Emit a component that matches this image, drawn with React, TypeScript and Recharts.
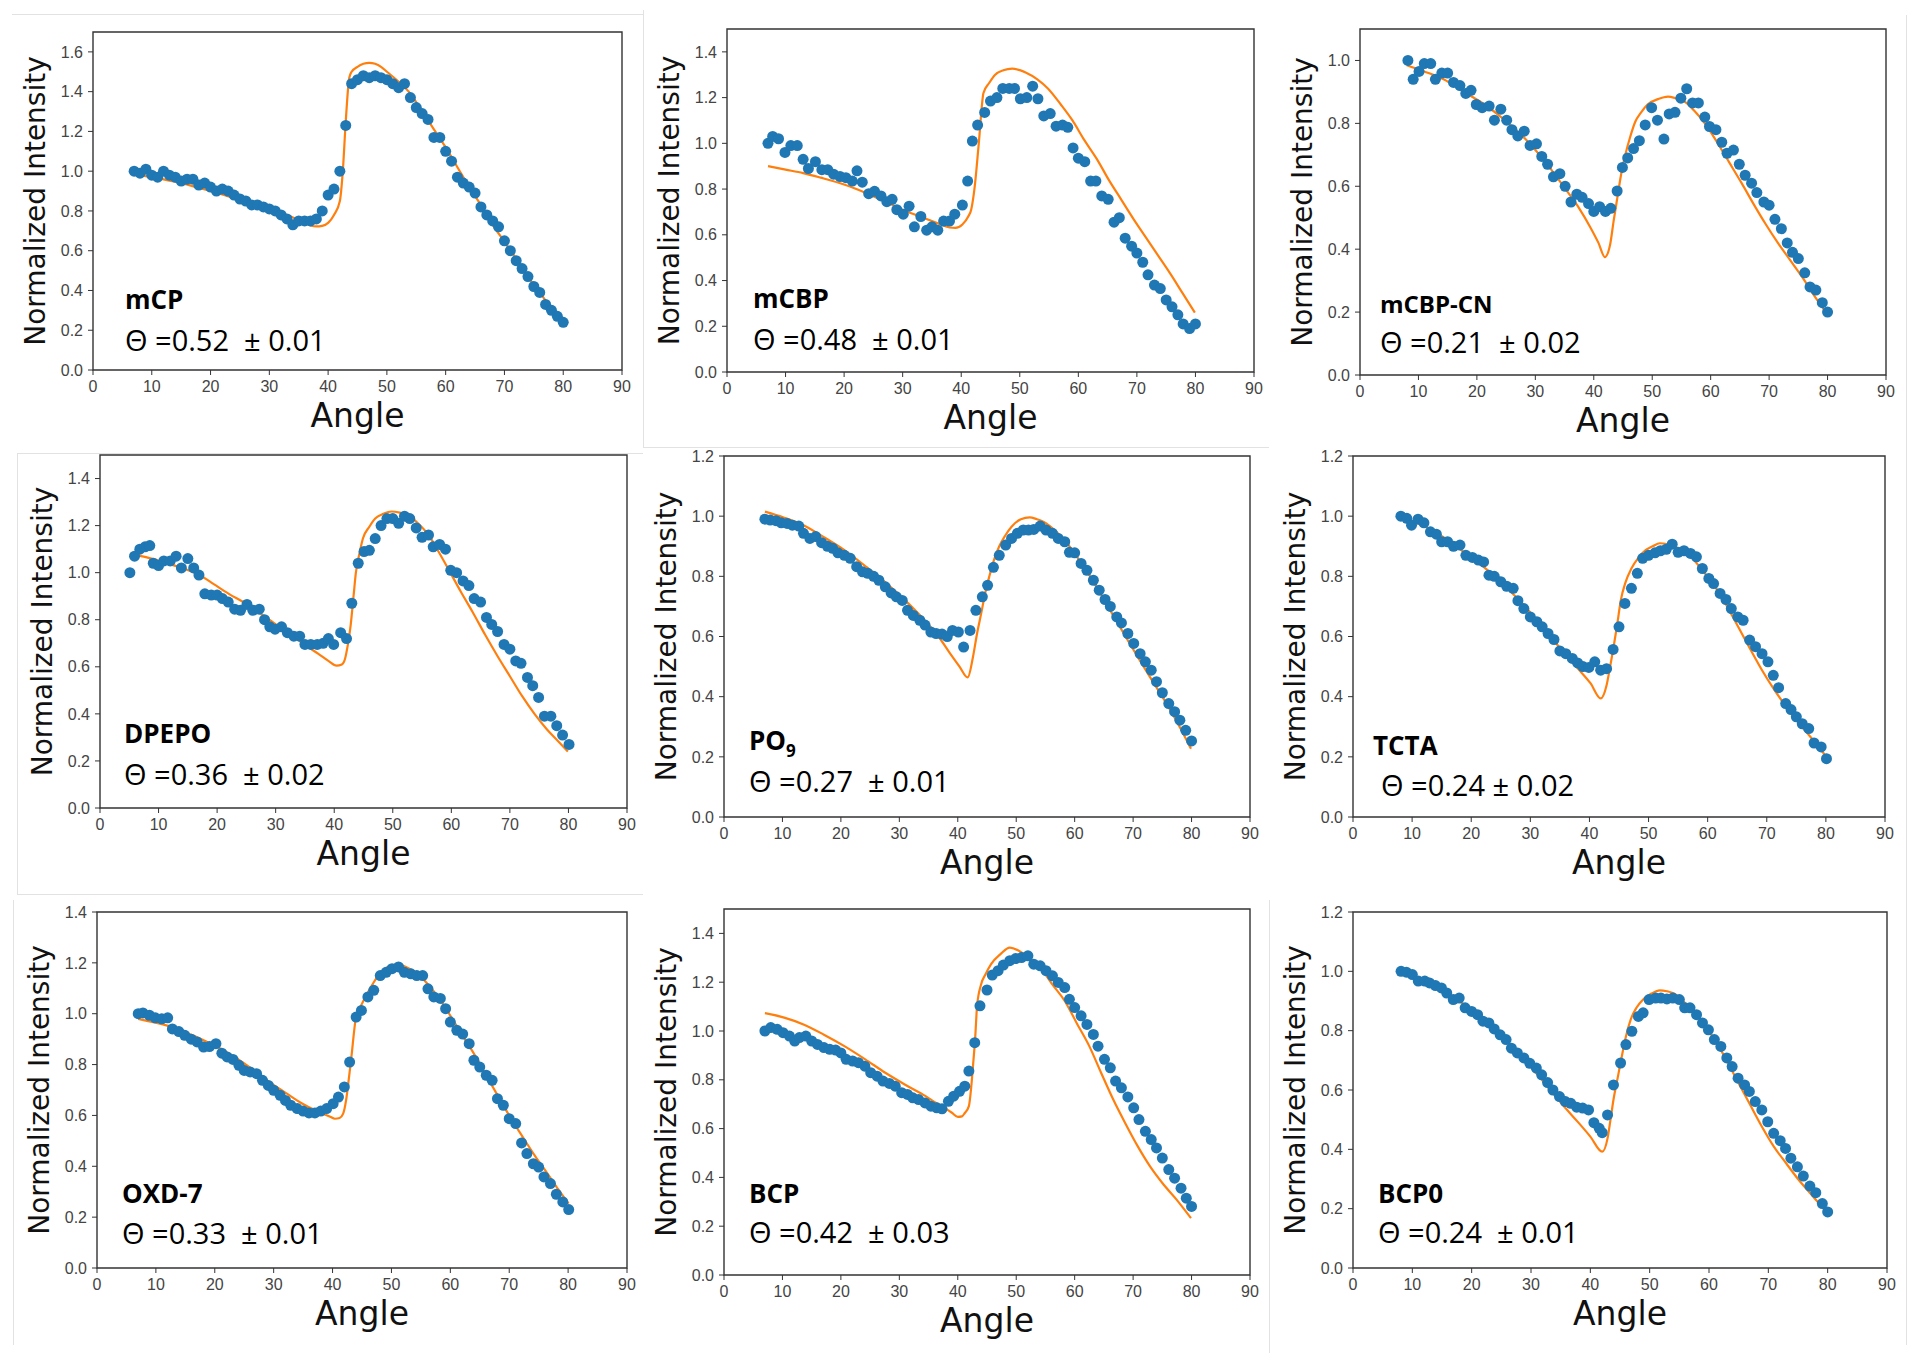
import { ComposedChart, Line, ReferenceArea, Scatter, XAxis, YAxis } from "recharts";

type Pair = [number, number];

// angle ticks shared by every panel
const xTicks = [0, 10, 20, 30, 40, 50, 60, 70, 80, 90];
const yTicks10 = [0, 0.2, 0.4, 0.6, 0.8, 1.0];
const yTicks12 = [0, 0.2, 0.4, 0.6, 0.8, 1.0, 1.2];
const yTicks14 = [0, 0.2, 0.4, 0.6, 0.8, 1.0, 1.2, 1.4];
const yTicks16 = [0, 0.2, 0.4, 0.6, 0.8, 1.0, 1.2, 1.4, 1.6];

// mCP
const mcpPoints: Pair[] = [
  [7, 1.0], [8, 0.99], [9, 1.01], [10, 0.98], [11, 0.97], [12, 1.0], [13, 0.98], [14, 0.97],
  [15, 0.95], [16, 0.96], [17, 0.96], [18, 0.93], [19, 0.94], [20, 0.92], [21, 0.9], [22, 0.91],
  [23, 0.9], [24, 0.88], [25, 0.86], [26, 0.85], [27, 0.83], [28, 0.83], [29, 0.82], [30, 0.81],
  [31, 0.8], [32, 0.78], [33, 0.76], [34, 0.73], [35, 0.75], [36, 0.75], [37, 0.75], [38, 0.76],
  [39, 0.8], [40, 0.88], [41, 0.91], [42, 1.0], [43, 1.23], [44, 1.44], [45, 1.46], [46, 1.48],
  [47, 1.47], [48, 1.48], [49, 1.47], [50, 1.46], [51, 1.44], [52, 1.42], [53, 1.44], [54, 1.37],
  [55, 1.32], [56, 1.29], [57, 1.26], [58, 1.17], [59, 1.17], [60, 1.1], [61, 1.05], [62, 0.97],
  [63, 0.94], [64, 0.92], [65, 0.89], [66, 0.82], [67, 0.78], [68, 0.75], [69, 0.72], [70, 0.65],
  [71, 0.6], [72, 0.55], [73, 0.51], [74, 0.47], [75, 0.42], [76, 0.39], [77, 0.33], [78, 0.3],
  [79, 0.27], [80, 0.24],
];
const mcpFit: Pair[] = [
  [7, 0.985], [10, 0.97], [15, 0.94], [20, 0.9], [25, 0.855], [30, 0.81], [33, 0.78], [35, 0.755],
  [37, 0.727], [38, 0.722], [39, 0.725], [40, 0.74], [41, 0.78], [42, 0.85], [42.5, 1.0], [43, 1.25],
  [43.6, 1.47], [44, 1.5], [45, 1.525], [46, 1.54], [47, 1.545], [48, 1.54], [49, 1.525], [50, 1.5],
  [52, 1.45], [54, 1.39], [56, 1.3], [58, 1.21], [60, 1.12], [62, 1.02], [64, 0.92], [66, 0.83],
  [68, 0.73], [70, 0.645], [72, 0.56], [74, 0.47], [76, 0.39], [78, 0.31], [80, 0.245],
];

// mCBP
const mcbpPoints: Pair[] = [
  [7.0, 1.0], [7.8, 1.03], [8.8, 1.02], [9.9, 0.96], [10.9, 0.99], [12.0, 0.99], [13.0, 0.93],
  [13.9, 0.89], [15.1, 0.92], [16.2, 0.885], [17.2, 0.885], [18.2, 0.865], [19.3, 0.855],
  [20.3, 0.85], [21.4, 0.835], [22.2, 0.88], [23.1, 0.83], [24.2, 0.78], [25.2, 0.79], [26.3, 0.77],
  [27.3, 0.745], [28.2, 0.755], [29.0, 0.71], [30.1, 0.69], [31.1, 0.725], [32.0, 0.635],
  [33.1, 0.68], [34.1, 0.62], [35.0, 0.635], [36.0, 0.62], [37.0, 0.66], [38.0, 0.66], [38.9, 0.69],
  [40.2, 0.73], [41.1, 0.835], [41.9, 1.01], [42.8, 1.08], [44.0, 1.135], [45.0, 1.185], [46.1, 1.2],
  [47.1, 1.24], [48.2, 1.24], [49.1, 1.24], [50.1, 1.195], [51.2, 1.2], [52.2, 1.25], [53.1, 1.195],
  [54.1, 1.12], [55.2, 1.13], [56.2, 1.075], [57.3, 1.08], [58.2, 1.07], [59.1, 0.98], [60.0, 0.935],
  [61.1, 0.92], [62.1, 0.835], [63.0, 0.835], [64.0, 0.77], [65.1, 0.755], [66.1, 0.655],
  [67.0, 0.675], [68.0, 0.585], [69.1, 0.55], [70.0, 0.52], [71.0, 0.48], [71.9, 0.425], [73.0, 0.38],
  [74.0, 0.365], [75.0, 0.315], [76.0, 0.285], [77.0, 0.25], [77.9, 0.21], [79.0, 0.19], [80.0, 0.21],
];
const mcbpFit: Pair[] = [
  [7, 0.9], [10, 0.885], [13, 0.87], [16, 0.85], [20, 0.82], [24, 0.78], [27, 0.745], [30, 0.71],
  [34, 0.67], [36, 0.65], [38, 0.632], [39, 0.63], [40.2, 0.645], [41.2, 0.68], [41.7, 0.71],
  [42.3, 0.81], [43, 1.0], [43.8, 1.22], [44.8, 1.265], [45.8, 1.3], [47.2, 1.32], [48.7, 1.327],
  [50, 1.32], [51, 1.31], [53, 1.28], [54.8, 1.24], [57, 1.17], [59, 1.1], [61, 1.015], [63.2, 0.93],
  [65.2, 0.84], [67.3, 0.755], [69.4, 0.67], [71.5, 0.59], [73.6, 0.51], [75.7, 0.43], [77.8, 0.345],
  [79.9, 0.26],
];

// mCBP-CN
const mcbpcnPoints: Pair[] = [
  [8.2, 1.0], [9.1, 0.94], [10.1, 0.965], [11.0, 0.99], [12.1, 0.99], [12.9, 0.94], [14.0, 0.96],
  [15.0, 0.96], [16.0, 0.93], [17.1, 0.92], [18.1, 0.895], [19.0, 0.905], [19.9, 0.86], [20.9, 0.85],
  [22.1, 0.855], [23.0, 0.81], [24.1, 0.845], [25.1, 0.81], [26.0, 0.78], [27.0, 0.76], [28.1, 0.775],
  [29.1, 0.73], [30.2, 0.735], [31.1, 0.695], [32.1, 0.67], [33.1, 0.63], [34.2, 0.64], [35.1, 0.6],
  [36.1, 0.55], [37.1, 0.575], [38.0, 0.565], [39.1, 0.545], [40.0, 0.52], [41.0, 0.535], [42.0, 0.52],
  [42.9, 0.53], [44.0, 0.585], [44.9, 0.66], [45.8, 0.69], [46.8, 0.72], [47.8, 0.745], [48.8, 0.795],
  [49.9, 0.85], [50.9, 0.81], [52.0, 0.75], [52.9, 0.83], [53.9, 0.835], [54.9, 0.88], [55.9, 0.91],
  [56.9, 0.865], [57.9, 0.865], [59.0, 0.82], [59.8, 0.79], [60.9, 0.78], [61.9, 0.74], [62.8, 0.705],
  [63.9, 0.715], [64.9, 0.67], [65.9, 0.635], [67.0, 0.61], [67.9, 0.58], [69.1, 0.55], [70.0, 0.54],
  [71.0, 0.495], [72.1, 0.465], [73.1, 0.42], [74.0, 0.39], [75.0, 0.37], [76.1, 0.325], [77.0, 0.28],
  [78.0, 0.27], [79.1, 0.23], [80.0, 0.2],
];
const mcbpcnFit: Pair[] = [
  [8, 0.985], [11, 0.965], [14.3, 0.94], [17.8, 0.9], [21.3, 0.86], [24.8, 0.81], [28.3, 0.75],
  [31.8, 0.675], [35.2, 0.59], [37.5, 0.53], [39.4, 0.47], [40.8, 0.42], [41.9, 0.375], [42.8, 0.415],
  [43.4, 0.49], [44, 0.56], [44.7, 0.64], [45.4, 0.7], [46.2, 0.755], [47.1, 0.805], [48.1, 0.835],
  [49.2, 0.86], [51, 0.877], [52.7, 0.885], [54, 0.88], [55.5, 0.87], [57.2, 0.84], [59, 0.8],
  [61.1, 0.74], [63.2, 0.675], [65.3, 0.61], [67.3, 0.545], [69.4, 0.48], [71.5, 0.42], [73.6, 0.365],
  [75.7, 0.31], [77.8, 0.25], [79.9, 0.195],
];

// DPEPO
const dpepoPoints: Pair[] = [
  [5.1, 1.0], [5.9, 1.07], [6.8, 1.1], [7.7, 1.11], [8.5, 1.115], [9.1, 1.04], [10.0, 1.03],
  [10.9, 1.05], [12.0, 1.05], [13.0, 1.07], [13.9, 1.02], [15.0, 1.06], [16.0, 1.02], [16.9, 0.99],
  [17.9, 0.91], [19.0, 0.905], [20.0, 0.905], [20.9, 0.89], [21.9, 0.875], [23.0, 0.845], [24.0, 0.84],
  [25.1, 0.865], [26.1, 0.84], [27.2, 0.845], [28.1, 0.8], [29.0, 0.77], [29.9, 0.76], [31.0, 0.77],
  [32.0, 0.745], [33.1, 0.73], [34.1, 0.73], [35.0, 0.695], [36.0, 0.695], [37.1, 0.695], [38.1, 0.7],
  [39.0, 0.72], [39.9, 0.695], [41.1, 0.745], [42.1, 0.72], [43.0, 0.87], [44.1, 1.04], [45.1, 1.09],
  [46.0, 1.095], [47.0, 1.145], [48.0, 1.2], [49.0, 1.23], [50.0, 1.23], [51.0, 1.21], [52.0, 1.24],
  [52.9, 1.23], [54.0, 1.19], [55.0, 1.15], [56.1, 1.16], [56.9, 1.11], [58.0, 1.12], [59.0, 1.1],
  [59.9, 1.01], [60.9, 1.0], [62.0, 0.965], [63.0, 0.945], [63.9, 0.89], [65.0, 0.875], [66.0, 0.81],
  [66.9, 0.78], [67.9, 0.75], [69.0, 0.695], [70.0, 0.675], [71.0, 0.625], [71.9, 0.615], [73.0, 0.555],
  [73.9, 0.52], [74.9, 0.47], [75.9, 0.39], [77.0, 0.39], [78.0, 0.35], [79.0, 0.31], [80.1, 0.27],
];
const dpepoFit: Pair[] = [
  [5.1, 1.08], [8, 1.065], [10.8, 1.045], [14, 1.02], [17, 0.99], [19.5, 0.95], [22, 0.91],
  [24.8, 0.87], [27.5, 0.825], [30.3, 0.775], [33, 0.73], [35.2, 0.69], [37.3, 0.655], [39, 0.625],
  [40.4, 0.605], [41.3, 0.61], [41.8, 0.63], [42.3, 0.69], [42.8, 0.775], [43.3, 0.9], [43.7, 1.0],
  [44.3, 1.08], [44.9, 1.145], [46, 1.195], [47, 1.23], [48.4, 1.25], [49.8, 1.26], [51.2, 1.255],
  [52.6, 1.245], [54.3, 1.21], [56.1, 1.16], [57.8, 1.09], [59.5, 1.015], [61.6, 0.92], [63.7, 0.83],
  [65.8, 0.735], [67.9, 0.645], [70, 0.56], [72.1, 0.475], [74.2, 0.4], [76.3, 0.335], [78.2, 0.285],
  [79.9, 0.24],
];

// PO9
const po9Points: Pair[] = [
  [7.0, 0.99], [7.9, 0.987], [8.9, 0.985], [9.8, 0.978], [10.8, 0.976], [11.7, 0.97], [12.8, 0.967],
  [13.6, 0.943], [14.7, 0.926], [15.7, 0.932], [16.7, 0.912], [17.7, 0.9], [18.6, 0.893], [19.5, 0.878],
  [20.6, 0.87], [21.6, 0.86], [22.7, 0.832], [23.7, 0.815], [24.6, 0.81], [25.6, 0.8], [26.5, 0.787],
  [27.6, 0.765], [28.6, 0.745], [29.5, 0.732], [30.5, 0.72], [31.4, 0.687], [32.4, 0.67], [33.5, 0.654],
  [34.4, 0.638], [35.4, 0.615], [36.3, 0.61], [37.3, 0.608], [38.2, 0.6], [39.1, 0.62], [40.1, 0.615],
  [41.0, 0.565], [42.1, 0.62], [43.1, 0.687], [44.2, 0.732], [45.1, 0.77], [46.1, 0.83], [47.1, 0.87],
  [48.2, 0.904], [49.2, 0.926], [50.2, 0.943], [51.2, 0.954], [52.1, 0.954], [53.0, 0.956],
  [54.1, 0.967], [55.1, 0.954], [56.2, 0.943], [57.2, 0.926], [58.3, 0.915], [59.1, 0.88], [60.0, 0.878],
  [61.1, 0.843], [62.1, 0.82], [63.2, 0.787], [64.2, 0.754], [65.2, 0.723], [66.1, 0.7], [67.2, 0.665],
  [68.0, 0.645], [69.1, 0.61], [70.1, 0.577], [71.2, 0.543], [72.1, 0.516], [73.1, 0.488], [74.0, 0.45],
  [75.0, 0.413], [76.1, 0.377], [77.1, 0.35], [78.0, 0.322], [79.0, 0.288], [80.0, 0.253],
];
const po9Fit: Pair[] = [
  [7, 1.015], [10.3, 0.995], [13.6, 0.97], [17.1, 0.93], [20.6, 0.887], [24.1, 0.835], [27.6, 0.78],
  [31, 0.72], [34.5, 0.65], [36.7, 0.6], [38.7, 0.543], [40.3, 0.5], [41.7, 0.464], [42.6, 0.532],
  [43.3, 0.61], [44, 0.676], [44.7, 0.745], [45.4, 0.8], [46.2, 0.855], [47.1, 0.9], [48.1, 0.935],
  [49.2, 0.965], [50.8, 0.99], [52.3, 0.996], [53.5, 0.99], [54.8, 0.98], [56.5, 0.955], [58.3, 0.92],
  [60.4, 0.865], [62.5, 0.804], [64.5, 0.74], [66.6, 0.67], [68.7, 0.6], [70.8, 0.532], [72.9, 0.465],
  [75, 0.4], [77.4, 0.32], [79.9, 0.227],
];

// TCTA
const tctaPoints: Pair[] = [
  [8.1, 1.0], [9.1, 0.993], [9.9, 0.97], [11.0, 0.99], [12.0, 0.978], [13.1, 0.948], [14.1, 0.94],
  [15.0, 0.915], [16.0, 0.915], [17.0, 0.9], [18.1, 0.904], [19.1, 0.87], [20.2, 0.863], [21.2, 0.854],
  [22.1, 0.848], [23.0, 0.804], [23.9, 0.8], [25.0, 0.782], [26.0, 0.767], [27.1, 0.76], [27.9, 0.719],
  [28.9, 0.693], [30.0, 0.665], [31.1, 0.649], [32.0, 0.632], [33.0, 0.61], [34.0, 0.59], [35.0, 0.552],
  [36.0, 0.543], [37.1, 0.527], [38.0, 0.512], [38.9, 0.5], [39.9, 0.497], [40.9, 0.516], [41.9, 0.488],
  [42.9, 0.493], [44.0, 0.557], [45.0, 0.632], [46.0, 0.71], [47.1, 0.76], [48.1, 0.81], [49.0, 0.86],
  [50.0, 0.87], [51.1, 0.878], [52.0, 0.885], [53.0, 0.89], [54.0, 0.907], [55.0, 0.88], [56.0, 0.885],
  [57.1, 0.876], [58.1, 0.865], [59.1, 0.826], [60.2, 0.793], [61.0, 0.776], [62.1, 0.743],
  [63.1, 0.723], [64.0, 0.693], [65.1, 0.665], [66.0, 0.654], [67.1, 0.588], [68.1, 0.566],
  [69.2, 0.543], [70.2, 0.516], [71.1, 0.471], [72.0, 0.43], [73.2, 0.377], [74.1, 0.357], [75.0, 0.333],
  [76.0, 0.31], [77.1, 0.294], [78.0, 0.246], [79.2, 0.233], [80.1, 0.194],
];
const tctaFit: Pair[] = [
  [8.1, 0.996], [11.7, 0.97], [15.3, 0.93], [18.8, 0.88], [22.2, 0.83], [25.7, 0.768], [29.1, 0.7],
  [32.6, 0.62], [36, 0.538], [38.2, 0.49], [40.2, 0.444], [41.9, 0.394], [42.9, 0.438], [43.5, 0.5],
  [44, 0.555], [44.7, 0.64], [45.3, 0.72], [46.1, 0.78], [47.1, 0.826], [48.3, 0.862], [49.5, 0.887],
  [50.7, 0.9], [51.9, 0.91], [53.1, 0.907], [54.3, 0.9], [55.8, 0.885], [57.4, 0.86], [59.1, 0.82],
  [60.9, 0.776], [63, 0.71], [65, 0.638], [67.1, 0.562], [69.2, 0.488], [71.2, 0.425], [73.3, 0.366],
  [75.3, 0.315], [77.4, 0.266], [80.1, 0.2],
];

// OXD-7
const oxdPoints: Pair[] = [
  [7.0, 1.0], [7.8, 1.003], [8.9, 0.994], [9.9, 0.984], [11.0, 0.98], [12.0, 0.984], [12.8, 0.94],
  [13.9, 0.93], [14.9, 0.915], [16.0, 0.9], [17.0, 0.889], [18.1, 0.869], [19.1, 0.871], [20.2, 0.882],
  [21.2, 0.845], [22.1, 0.83], [23.1, 0.82], [24.1, 0.797], [25.0, 0.777], [26.0, 0.771], [27.1, 0.764],
  [28.1, 0.738], [29.1, 0.718], [30.0, 0.699], [31.1, 0.679], [32.0, 0.659], [32.9, 0.64], [34.0, 0.627],
  [35.0, 0.617], [36.0, 0.61], [37.0, 0.61], [38.0, 0.617], [39.0, 0.627], [40.1, 0.646], [41.0, 0.672],
  [42.0, 0.712], [42.9, 0.81], [44.0, 0.987], [44.9, 1.013], [46.0, 1.066], [47.0, 1.092], [48.1, 1.15],
  [49.1, 1.163], [50.1, 1.177], [51.2, 1.184], [52.2, 1.163], [53.3, 1.157], [54.3, 1.15], [55.3, 1.15],
  [56.2, 1.098], [57.2, 1.066], [58.3, 1.06], [59.2, 1.02], [60.0, 0.967], [61.1, 0.935], [62.1, 0.92],
  [63.2, 0.882], [64.0, 0.817], [65.0, 0.79], [66.1, 0.758], [67.1, 0.738], [68.0, 0.666], [69.0, 0.64],
  [70.0, 0.587], [71.1, 0.568], [72.1, 0.492], [73.0, 0.45], [74.1, 0.41], [75.0, 0.397], [75.9, 0.358],
  [77.0, 0.332], [78.0, 0.29], [79.1, 0.26], [80.1, 0.23],
];
const oxdFit: Pair[] = [
  [7, 0.98], [9.9, 0.965], [12.7, 0.948], [15.5, 0.922], [18.2, 0.895], [21, 0.862], [23.8, 0.823],
  [26.6, 0.778], [29.3, 0.731], [32.1, 0.688], [34.9, 0.646], [36.9, 0.622], [38.4, 0.607], [39.6, 0.595],
  [40.4, 0.587], [41.2, 0.59], [41.8, 0.607], [42.3, 0.66], [42.6, 0.712], [43.2, 0.83], [43.9, 0.974],
  [44.6, 1.02], [45.3, 1.053], [46.4, 1.1], [47.4, 1.138], [48.4, 1.165], [49.4, 1.184], [51.2, 1.193],
  [52.4, 1.185], [53.6, 1.17], [55, 1.145], [56.4, 1.11], [58.1, 1.06], [59.8, 1.0], [61.9, 0.92],
  [64, 0.843], [66.1, 0.757], [68.2, 0.672], [70.2, 0.592], [72.3, 0.515], [74.4, 0.44], [76.5, 0.371],
  [78.3, 0.31], [80.1, 0.253],
];

// BCP
const bcpPoints: Pair[] = [
  [7.0, 1.0], [8.0, 1.014], [9.1, 1.007], [10.1, 0.993], [11.2, 0.979], [12.1, 0.959], [12.9, 0.973],
  [14.0, 0.979], [15.0, 0.959], [16.0, 0.945], [17.1, 0.932], [18.1, 0.925], [19.1, 0.922], [20.0, 0.91],
  [20.9, 0.884], [22.0, 0.877], [23.0, 0.87], [24.1, 0.856], [25.1, 0.829], [26.2, 0.815], [27.2, 0.795],
  [28.3, 0.785], [29.3, 0.774], [30.4, 0.747], [31.4, 0.74], [32.3, 0.726], [33.3, 0.719], [34.4, 0.705],
  [35.4, 0.692], [36.4, 0.685], [37.3, 0.681], [38.4, 0.712], [39.3, 0.733], [40.3, 0.753], [41.2, 0.774],
  [41.9, 0.836], [42.9, 0.952], [43.8, 1.103], [45.0, 1.168], [45.9, 1.229], [46.9, 1.247], [47.8, 1.27],
  [48.9, 1.288], [49.9, 1.297], [50.9, 1.301], [52.0, 1.308], [53.0, 1.274], [54.1, 1.267], [55.1, 1.247],
  [56.2, 1.226], [57.2, 1.199], [58.3, 1.178], [59.1, 1.13], [60.0, 1.096], [61.1, 1.062], [62.1, 1.027],
  [63.2, 0.986], [64.0, 0.938], [65.1, 0.884], [66.1, 0.849], [67.0, 0.795], [68.0, 0.767], [69.1, 0.73],
  [70.1, 0.685], [71.0, 0.637], [72.1, 0.589], [73.1, 0.555], [74.0, 0.521], [75.0, 0.479], [76.1, 0.432],
  [77.1, 0.397], [78.2, 0.356], [79.1, 0.315], [80.0, 0.281],
];
const bcpFit: Pair[] = [
  [7, 1.073], [10.3, 1.055], [13.6, 1.027], [17.1, 0.985], [20.6, 0.938], [24.1, 0.885], [27.6, 0.829],
  [31, 0.78], [34.5, 0.733], [36.3, 0.705], [38, 0.681], [39, 0.665], [40, 0.648], [40.7, 0.65],
  [41.2, 0.664], [41.9, 0.692], [42.3, 0.77], [42.6, 0.856], [43, 0.98], [43.3, 1.103], [44, 1.192],
  [44.8, 1.235], [45.7, 1.274], [47.3, 1.315], [48.9, 1.342], [50.9, 1.322], [52.5, 1.29], [54.1, 1.26],
  [56.2, 1.19], [58.3, 1.123], [60.4, 1.03], [62.5, 0.938], [64.5, 0.83], [66.6, 0.719], [68.7, 0.62],
  [70.8, 0.527], [72.9, 0.445], [75, 0.377], [77.4, 0.31], [79.9, 0.233],
];

// BCP0
const bcp0Points: Pair[] = [
  [8.1, 1.0], [9.0, 0.997], [10.0, 0.989], [11.0, 0.967], [12.1, 0.967], [12.9, 0.961], [13.9, 0.952],
  [14.9, 0.944], [15.8, 0.927], [16.9, 0.905], [17.9, 0.91], [18.9, 0.877], [20.0, 0.865], [21.0, 0.854],
  [21.9, 0.832], [22.9, 0.826], [23.8, 0.806], [24.8, 0.786], [25.8, 0.77], [26.7, 0.741], [27.7, 0.725],
  [28.8, 0.708], [29.8, 0.69], [30.9, 0.674], [31.8, 0.651], [32.8, 0.625], [33.7, 0.6], [34.8, 0.578],
  [35.8, 0.561], [36.7, 0.555], [37.7, 0.542], [38.7, 0.539], [39.7, 0.533], [40.6, 0.49], [41.5, 0.471],
  [42.0, 0.456], [42.9, 0.516], [43.9, 0.617], [45.1, 0.691], [46.0, 0.753], [47.0, 0.798], [48.1, 0.848],
  [48.9, 0.86], [49.9, 0.905], [51.0, 0.91], [51.9, 0.91], [52.9, 0.907], [53.9, 0.91], [55.0, 0.905],
  [55.9, 0.877], [56.8, 0.877], [57.9, 0.854], [58.9, 0.826], [59.9, 0.803], [60.9, 0.77], [62.0, 0.747],
  [63.0, 0.708], [63.9, 0.679], [64.9, 0.64], [66.0, 0.617], [66.8, 0.595], [67.8, 0.561], [68.9, 0.533],
  [69.9, 0.493], [70.9, 0.454], [72.0, 0.429], [72.9, 0.403], [73.8, 0.37], [74.9, 0.341], [75.9, 0.31],
  [77.0, 0.276], [78.0, 0.254], [79.1, 0.217], [80.0, 0.189],
];
const bcp0Fit: Pair[] = [
  [8.1, 0.993], [11.6, 0.965], [15.2, 0.933], [18.6, 0.89], [22, 0.837], [25.5, 0.772], [28.9, 0.702],
  [32.3, 0.623], [35.8, 0.539], [38, 0.49], [40, 0.443], [42, 0.392], [42.9, 0.437], [43.4, 0.5],
  [43.9, 0.567], [44.6, 0.64], [45.3, 0.713], [46, 0.78], [46.8, 0.837], [47.8, 0.878], [48.9, 0.905],
  [50.3, 0.925], [51.7, 0.936], [52.9, 0.933], [54.1, 0.925], [55.6, 0.9], [57.2, 0.871], [58.9, 0.83],
  [60.6, 0.781], [62.7, 0.71], [64.7, 0.634], [66.8, 0.555], [68.9, 0.477], [70.9, 0.41], [73, 0.353],
  [75, 0.3], [77.1, 0.251], [80, 0.184],
];

interface PanelSpec {
  name: string;
  sub?: string;
  theta: string;
  points: Pair[];
  fit: Pair[];
  yMax: number;
  yTicks: number[];
  // frame (plot area) in page pixels
  left: number;
  top: number;
  w: number;
  h: number;
  nameX: number;
  nameY: number;
  thetaX: number;
  thetaY: number;
  nameSize: number;
}

const panels: PanelSpec[] = [
  { name: "mCP", theta: "Θ =0.52  ± 0.01", points: mcpPoints, fit: mcpFit, yMax: 1.7, yTicks: yTicks16,
    left: 93, top: 32, w: 529, h: 338, nameX: 32, nameY: 61, thetaX: 32, thetaY: 19, nameSize: 26 },
  { name: "mCBP", theta: "Θ =0.48  ± 0.01", points: mcbpPoints, fit: mcbpFit, yMax: 1.5, yTicks: yTicks14,
    left: 727, top: 29, w: 527, h: 343, nameX: 26, nameY: 64, thetaX: 26, thetaY: 22, nameSize: 26 },
  { name: "mCBP-CN", theta: "Θ =0.21  ± 0.02", points: mcbpcnPoints, fit: mcbpcnFit, yMax: 1.1, yTicks: yTicks10,
    left: 1360, top: 29, w: 526, h: 346, nameX: 20, nameY: 62, thetaX: 20, thetaY: 22, nameSize: 24 },
  { name: "DPEPO", theta: "Θ =0.36  ± 0.02", points: dpepoPoints, fit: dpepoFit, yMax: 1.5, yTicks: yTicks14,
    left: 100, top: 455, w: 527, h: 353, nameX: 24, nameY: 65, thetaX: 24, thetaY: 23, nameSize: 26 },
  { name: "PO", sub: "9", theta: "Θ =0.27  ± 0.01", points: po9Points, fit: po9Fit, yMax: 1.2, yTicks: yTicks12,
    left: 724, top: 456, w: 526, h: 361, nameX: 25, nameY: 67, thetaX: 25, thetaY: 25, nameSize: 26 },
  { name: "TCTA", theta: "Θ =0.24 ± 0.02", points: tctaPoints, fit: tctaFit, yMax: 1.2, yTicks: yTicks12,
    left: 1353, top: 456, w: 532, h: 361, nameX: 20, nameY: 62, thetaX: 28, thetaY: 21, nameSize: 26 },
  { name: "OXD-7", theta: "Θ =0.33  ± 0.01", points: oxdPoints, fit: oxdFit, yMax: 1.4, yTicks: yTicks14,
    left: 97, top: 912, w: 530, h: 356, nameX: 25, nameY: 65, thetaX: 25, thetaY: 24, nameSize: 26 },
  { name: "BCP", theta: "Θ =0.42  ± 0.03", points: bcpPoints, fit: bcpFit, yMax: 1.5, yTicks: yTicks14,
    left: 724, top: 909, w: 526, h: 366, nameX: 25, nameY: 72, thetaX: 25, thetaY: 32, nameSize: 26 },
  { name: "BCP0", theta: "Θ =0.24  ± 0.01", points: bcp0Points, fit: bcp0Fit, yMax: 1.2, yTicks: yTicks12,
    left: 1353, top: 912, w: 534, h: 356, nameX: 25, nameY: 65, thetaX: 25, thetaY: 25, nameSize: 26 },
];

// faint borders left over from the screenshot pieces
const seams = [
  { left: 12, top: 14, width: 632, height: 1 },
  { left: 643, top: 10, width: 1, height: 437 },
  { left: 643, top: 447, width: 626, height: 1 },
  { left: 17, top: 453, width: 626, height: 1 },
  { left: 17, top: 453, width: 1, height: 441 },
  { left: 17, top: 894, width: 626, height: 1 },
  { left: 13, top: 900, width: 1, height: 445 },
  { left: 1269, top: 900, width: 1, height: 453 },
  { left: 1906, top: 15, width: 1, height: 1330 },
];

const ML = 100;
const MT = 10;
const MR = 14;
const XH = 78;

const dot = (props: any) => <circle cx={props.cx} cy={props.cy} r={5.5} fill="#1f77b4" />;

function AnglePanel({ p }: { p: PanelSpec }) {
  const width = ML + p.w + MR;
  const height = MT + p.h + XH;
  const points = p.points.map(([x, y]) => ({ x, y }));
  const fit = p.fit.map(([x, y]) => ({ x, y }));
  const bottom = MT + p.h;
  const tickStyle = { fill: "#444", fontSize: 16, fontFamily: "Liberation Sans" };

  return (
    <div style={{ position: "absolute", left: p.left - ML, top: p.top - MT, width, height }}>
      <ComposedChart width={width} height={height} margin={{ top: MT, right: MR, left: 0, bottom: 0 }}>
        <XAxis
          type="number"
          dataKey="x"
          domain={[0, 90]}
          ticks={xTicks}
          interval={0}
          allowDataOverflow
          height={XH}
          axisLine={false}
          tickLine={{ stroke: "#333" }}
          tickSize={5}
          tickMargin={6}
          tick={tickStyle}
          label={{
            value: "Angle",
            position: "insideBottom",
            offset: 21,
            style: { fill: "#111", fontSize: 33, fontFamily: "DejaVu Sans" },
          }}
        />
        <YAxis
          type="number"
          dataKey="y"
          domain={[0, p.yMax]}
          ticks={p.yTicks}
          interval={0}
          allowDataOverflow
          width={ML}
          axisLine={false}
          tickLine={{ stroke: "#333" }}
          tickSize={5}
          tickMargin={5}
          tick={tickStyle}
          tickFormatter={(v: number) => v.toFixed(1)}
          label={{
            value: "Normalized Intensity",
            angle: -90,
            position: "insideLeft",
            offset: 42,
            style: { textAnchor: "middle", fill: "#111", fontSize: 28, fontFamily: "DejaVu Sans" },
          }}
        />
        <ReferenceArea
          x1={0}
          x2={90}
          y1={0}
          y2={p.yMax}
          ifOverflow="visible"
          fill="none"
          fillOpacity={0}
          stroke="#333"
          strokeWidth={1.4}
        />
        <Scatter data={points} dataKey="y" shape={dot} isAnimationActive={false} />
        <Line
          data={fit}
          dataKey="y"
          type="monotone"
          stroke="#ff7f0e"
          strokeWidth={2.2}
          dot={false}
          activeDot={false}
          isAnimationActive={false}
        />
      </ComposedChart>
      <svg
        width={width}
        height={height}
        style={{ position: "absolute", left: 0, top: 0, pointerEvents: "none" }}
      >
        <text
          x={ML + p.nameX}
          y={bottom - p.nameY}
          fontFamily="Open Sans"
          fontWeight={700}
          fontSize={p.nameSize}
          fill="#000"
        >
          {p.name}
          {p.sub && (
            <tspan fontSize={17} dy={7}>
              {p.sub}
            </tspan>
          )}
        </text>
        <text
          x={ML + p.thetaX}
          y={bottom - p.thetaY}
          fontFamily="Open Sans"
          fontSize={29}
          fill="#000"
          style={{ whiteSpace: "pre" }}
        >
          {p.theta}
        </text>
      </svg>
    </div>
  );
}

export default function App() {
  return (
    <div
      style={{
        position: "absolute",
        left: 0,
        top: 0,
        width: 1913,
        height: 1367,
        background: "#fff",
        overflow: "hidden",
      }}
    >
      {seams.map((s, i) => (
        <div key={i} style={{ position: "absolute", background: "#e2e2e2", ...s }} />
      ))}
      {panels.map((p) => (
        <AnglePanel key={p.name} p={p} />
      ))}
    </div>
  );
}
